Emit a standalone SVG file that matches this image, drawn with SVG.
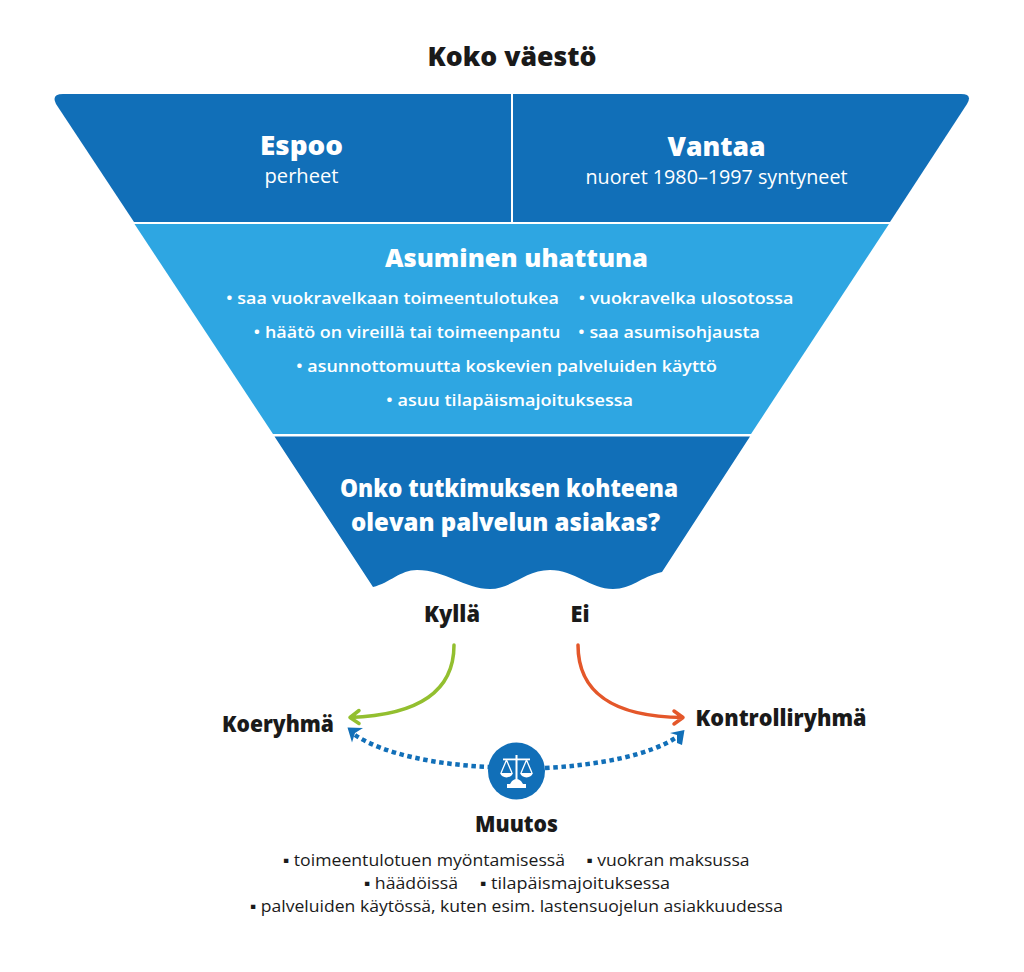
<svg xmlns="http://www.w3.org/2000/svg" width="1024" height="972" viewBox="0 0 1024 972">
<defs><style>
text{font-family:"Open Sans","Noto Sans","Liberation Sans",sans-serif;text-anchor:middle}
.h{font-weight:800}
.k{fill:#1a1a1a}
.w{fill:#fff}
.m{font-weight:600;font-size:17px;fill:#fff}
.b{font-size:17px;fill:#1a1a1a}
.dark{fill:#116fb8}
.line{fill:none;stroke-width:3.5;stroke-linecap:round;stroke-linejoin:round}
.dot{fill:none;stroke:#116fb8;stroke-width:4.5;stroke-dasharray:4.5 3.6}
</style></defs>
<rect width="1024" height="972" fill="#fff"/>
<g id="title"><text class="h k" x="512" y="66" font-size="27" textLength="169" lengthAdjust="spacingAndGlyphs">Koko väestö</text></g>
<g id="espoo">
<path class="dark" d="M63 94H511V222H134L56 104Q51 94 63 94Z"/>
<text class="h w" x="301.500" y="155" font-size="27" textLength="83" lengthAdjust="spacingAndGlyphs">Espoo</text>
<text class="w" x="301.500" y="183" font-size="20" textLength="74" lengthAdjust="spacingAndGlyphs">perheet</text>
</g>
<g id="vantaa">
<path class="dark" d="M513 94H961Q973 94 967 104L890 222H513Z"/>
<text class="h w" x="716.500" y="156" font-size="27" textLength="98" lengthAdjust="spacingAndGlyphs">Vantaa</text>
<text class="w" x="716.500" y="184" font-size="20" textLength="262" lengthAdjust="spacingAndGlyphs">nuoret 1980–1997 syntyneet</text>
</g>
<g id="asuminen">
<path fill="#2ea6e2" d="M134.500 224H889L751 434H273Z"/>
<text class="h w" x="516.500" y="267" font-size="25" textLength="263" lengthAdjust="spacingAndGlyphs">Asuminen uhattuna</text>
<text class="m" x="392.500" y="304" textLength="333" lengthAdjust="spacingAndGlyphs">• saa vuokravelkaan toimeentulotukea</text>
<text class="m" x="686" y="304" textLength="215" lengthAdjust="spacingAndGlyphs">• vuokravelka ulosotossa</text>
<text class="m" x="407" y="338" textLength="307" lengthAdjust="spacingAndGlyphs">• häätö on vireillä tai toimeenpantu</text>
<text class="m" x="669" y="338" textLength="182" lengthAdjust="spacingAndGlyphs">• saa asumisohjausta</text>
<text class="m" x="506.500" y="372" textLength="421" lengthAdjust="spacingAndGlyphs">• asunnottomuutta koskevien palveluiden käyttö</text>
<text class="m" x="509.500" y="406" textLength="247" lengthAdjust="spacingAndGlyphs">• asuu tilapäismajoituksessa</text>
</g>
<g id="kysymys">
<path class="dark" d="M274.500 436.500H750L662 572C640 577 632 589 613 589C590 589 575 570 550 570C525 570 512 589 490 589C465 589 445 570 417 570C400 570 390 583 373 587Z"/>
<text class="h w" x="509" y="497" font-size="24" textLength="338" lengthAdjust="spacingAndGlyphs">Onko tutkimuksen kohteena</text>
<text class="h w" x="505.500" y="531" font-size="24" textLength="309" lengthAdjust="spacingAndGlyphs">olevan palvelun asiakas?</text>
</g>
<g id="kylla"><text class="h k" x="452" y="622" font-size="22" textLength="56" lengthAdjust="spacingAndGlyphs">Kyllä</text></g>
<g id="ei"><text class="h k" x="580" y="622" font-size="22" textLength="19" lengthAdjust="spacingAndGlyphs">Ei</text></g>
<g id="koeryhma"><text class="h k" x="278" y="732" font-size="22" textLength="112" lengthAdjust="spacingAndGlyphs">Koeryhmä</text></g>
<g id="kontrolliryhma"><text class="h k" x="781" y="726" font-size="22" textLength="171" lengthAdjust="spacingAndGlyphs">Kontrolliryhmä</text></g>
<g id="connectors">
<path class="line" stroke="#93bf2f" d="M454 645C454 690 420 715 350 717.500M359 710.500L350 717.500L359 723.500"/>
<path class="line" stroke="#e4572a" d="M578 645C578 690 610 717 683 717.500M674 711L683 717.500L674 724"/>
<path class="dot" d="M355 735C385 755 440 765 490 767"/>
<path class="dot" d="M545 768C600 765 650 755 677 737"/>
<path fill="#116fb8" d="M347.500 727.500L363 728L355 733L352 742.500Z"/>
<path fill="#116fb8" d="M670 733L684.500 730L682 745L677 743L677 735Z"/>
</g>
<g id="muutos">
<circle class="dark" cx="516.500" cy="771" r="28.500"/>
<g fill="#fff">
<rect x="515.500" y="755" width="2" height="26"/>
<rect x="503" y="758.500" width="27" height="1.800"/>
<path d="M512 781Q516.500 777 521 781L523 784H526V788H507V784H510Z"/>
<path d="M500 773A7 7 0 0 0 513 773Z"/>
<path d="M520 773A7 7 0 0 0 533 773Z"/>
</g>
<path d="M506.500 760L501 773M506.500 760L512 773M526.500 760L521 773M526.500 760L532 773" stroke="#fff" stroke-width="1.300" fill="none"/>
<text class="h k" x="516.500" y="832" font-size="22" textLength="83" lengthAdjust="spacingAndGlyphs">Muutos</text>
<text class="b" x="424" y="866" textLength="282" lengthAdjust="spacingAndGlyphs">▪ toimeentulotuen myöntamisessä</text>
<text class="b" x="668" y="866" textLength="163" lengthAdjust="spacingAndGlyphs">▪ vuokran maksussa</text>
<text class="b" x="411" y="889" textLength="94" lengthAdjust="spacingAndGlyphs">▪ häädöissä</text>
<text class="b" x="575" y="889" textLength="190" lengthAdjust="spacingAndGlyphs">▪ tilapäismajoituksessa</text>
<text class="b" x="516.500" y="912" textLength="533" lengthAdjust="spacingAndGlyphs">▪ palveluiden käytössä, kuten esim. lastensuojelun asiakkuudessa</text>
</g>
</svg>
